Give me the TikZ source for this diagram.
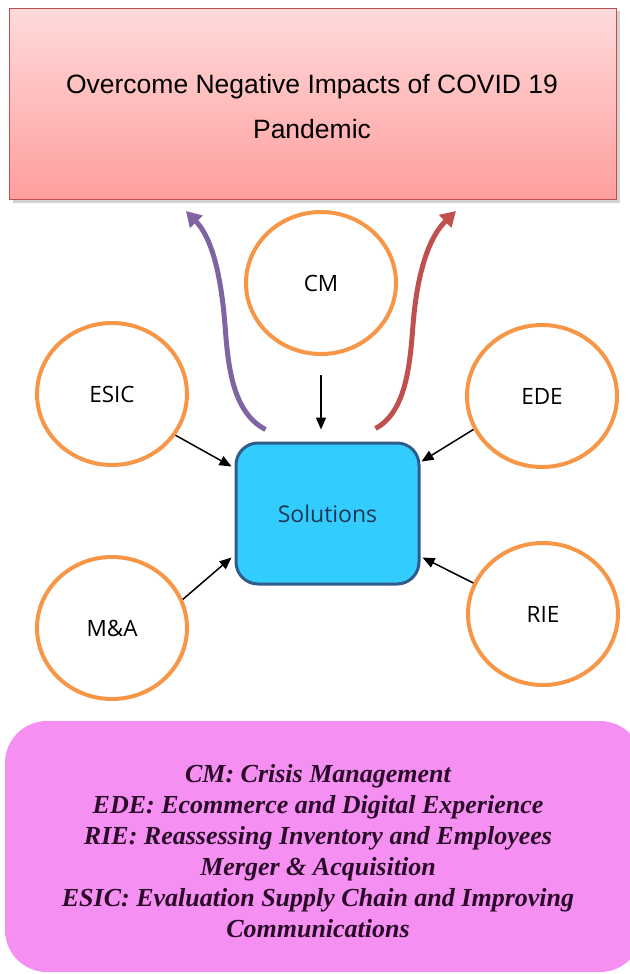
\documentclass[tikz,border=0pt]{standalone}
\usepackage{fontspec}
\setmainfont{Liberation Serif}
\newfontfamily\arialf{Liberation Sans}
\newfontfamily\labf{Open Sans}
\usetikzlibrary{shapes.geometric,arrows.meta,shadows}
\definecolor{boxred}{HTML}{C0504D}
\definecolor{pinktop}{HTML}{FFDADA}
\definecolor{pinkbot}{HTML}{FF9E9E}
\definecolor{orng}{HTML}{F79646}
\definecolor{solfill}{HTML}{33CCFF}
\definecolor{solline}{HTML}{2F5C8A}
\definecolor{violetarr}{HTML}{8064A2}
\definecolor{legfill}{HTML}{F590F2}
\definecolor{legtext}{HTML}{2A0A28}
\tikzset{
  circ/.style={ellipse, draw=orng, line width=4pt, fill=white, minimum width=150pt, minimum height=142pt, font=\labf\fontsize{22.5}{26}\selectfont, inner sep=0pt},
  arr/.style={-{Triangle[width=10pt,length=12pt]}, line width=1.5pt, black},
  bigarr/.style={-{Triangle[width=17pt,length=15pt]}, line width=5pt},
}
\begin{document}
\begin{tikzpicture}[x=1pt,y=1pt]
\useasboundingbox (0,0) rectangle (629,-974);
% legend box
\fill[legfill, rounded corners=42pt] (5,-721) rectangle (642,-972);
\node[font=\fontsize{26}{31}\selectfont\bfseries\itshape, text=legtext, align=center] (legend) at (318,-851)
 {CM: Crisis Management\\EDE: Ecommerce and Digital Experience\\RIE: Reassessing Inventory and Employees\\Merger \& Acquisition\\ESIC: Evaluation Supply Chain and Improving\\Communications};
% top box
\node[draw=boxred, line width=1.5pt, top color=pinktop, bottom color=pinkbot, minimum width=607pt, minimum height=191pt, drop shadow={shadow xshift=3pt, shadow yshift=-3pt, opacity=0.35}] (goal) at (313,-104) {};
\node[font=\arialf\fontsize{26.5}{45}\selectfont, align=center] (goaltext) at (312,-107) {Overcome Negative Impacts of COVID 19\\Pandemic};
% solutions
\node[draw=solline, fill=solfill, line width=3pt, rounded corners=22pt, minimum width=183pt, minimum height=141pt, font=\labf\fontsize{23}{26}\selectfont, text=solline!60!black] (sol) at (327.5,-513.5) {Solutions};
% circles
\node[circ] (CM) at (321,-283) {CM};
\node[circ] (ESIC) at (112,-394) {ESIC};
\node[circ] (EDE) at (542,-396) {EDE};
\node[circ] (MA) at (112,-628) {M\&A};
\node[circ] (RIE) at (543,-614) {RIE};
% arrows to solutions
\draw[arr] ([yshift=-19pt]CM.south) -- ([yshift=12pt]sol.north -| CM.south);
\draw[arr] (ESIC.-33) -- ([xshift=-3pt,yshift=-25pt]sol.north west);
\draw[arr] (EDE.206) -- ([xshift=1pt,yshift=-20pt]sol.north east);
\draw[arr] (MA.22) -- ([xshift=-3pt,yshift=28pt]sol.south west);
\draw[arr] (RIE.156) -- ([xshift=2pt,yshift=28pt]sol.south east);
% curved arrows to goal
\coordinate (ptip) at (186,-211);
\coordinate (rtip) at (456,-211);
\draw[bigarr, violetarr] ([xshift=-62pt,yshift=12pt]sol.north) .. controls (232,-412) and (228,-365) .. (225,-325) .. controls (221,-275) and (212,-238) .. (ptip);
\draw[bigarr, boxred] ([xshift=48pt,yshift=13pt]sol.north) .. controls (406,-412) and (410,-365) .. (413,-325) .. controls (417,-275) and (428,-238) .. (rtip);
\end{tikzpicture}
\end{document}
